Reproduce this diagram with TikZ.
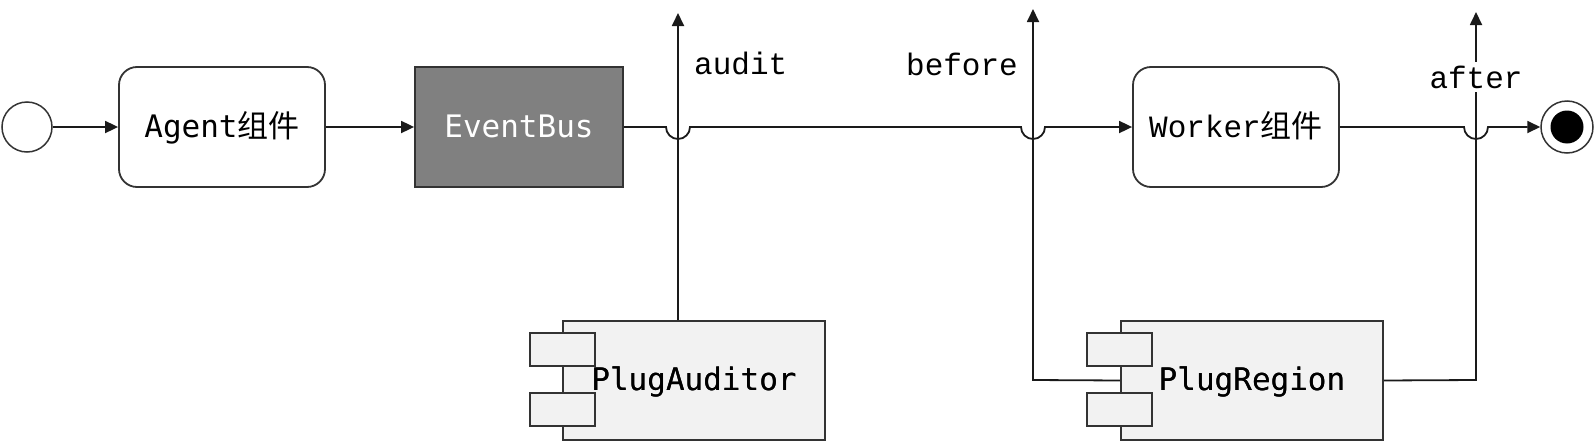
\documentclass[tikz,border=0pt]{standalone}
\usepackage{fontspec}
\newfontfamily\menlo{DejaVu Sans Mono}
\newfontfamily\couriermono{Liberation Mono}
\newfontfamily\cjk{Noto Sans CJK SC}
\usetikzlibrary{arrows.meta}
\definecolor{edgec}{HTML}{1A1A1A}
\definecolor{borderc}{HTML}{333333}
\definecolor{busfill}{HTML}{808080}
\definecolor{compfill}{HTML}{F2F2F2}
\tikzset{
  flow/.style={draw=edgec, line width=1.8pt},
  arr/.style={flow, -{Triangle[length=13pt,width=12pt]}},
  roundbox/.style={draw=borderc, line width=1.8pt, rounded corners=18pt, fill=white,
    minimum width=206pt, minimum height=120pt, inner sep=0pt,
    text height=24pt, text depth=4pt, font=\fontsize{31}{37}\selectfont},
  busbox/.style={draw=borderc, line width=1.8pt, fill=busfill, text=white,
    minimum width=208pt, minimum height=120pt, inner sep=0pt,
    text height=24pt, text depth=4pt, font=\fontsize{31}{37}\selectfont\menlo},
  compbox/.style={draw=borderc, line width=1.8pt, fill=compfill,
    minimum width=262pt, minimum height=119pt, inner sep=0pt,
    text height=24pt, text depth=4pt, font=\fontsize{31}{37}\selectfont\menlo},
  compsmall/.style={draw=borderc, line width=1.8pt, fill=compfill},
  lbl/.style={inner sep=0pt, font=\fontsize{31}{37}\selectfont\couriermono, text=black},
  startc/.style={circle, draw=borderc, line width=1.5pt, fill=white, minimum size=50pt, inner sep=0pt},
  endc/.style={circle, draw=borderc, line width=1.5pt, fill=white, minimum size=52pt, inner sep=0pt},
}
\begin{document}
\begin{tikzpicture}[x=1pt,y=-1pt]
\useasboundingbox (0,0) rectangle (1596,442);
% nodes
\node[startc] (s) at (27,127) {};
\node[roundbox] (agent) at (222,127) {\menlo Agent\cjk 组件};
\node[busbox] (bus) at (519,127) {EventBus};
\node[roundbox] (worker) at (1236,127) {\couriermono Worker\cjk 组件};
\node[endc] (e) at (1567,127) {};
\fill[black] (e.center) circle[radius=16.5pt];
% jump coordinates
\coordinate (j1) at (678,127);
\coordinate (j2) at (1033,127);
\coordinate (j3) at (1476,127);
% top ends of vertical connectors
\coordinate (t1) at (678,13);
\coordinate (t2) at (1033,9);
\coordinate (t3) at (1476,12);
% components main rectangle positions
\coordinate (pac) at (694,380.5);
\coordinate (prc) at (1252,380.5);
\coordinate (b2) at (1033,380);
\coordinate (b3) at (1476,380);
% connectors from PlugRegion (drawn before the boxes)
\draw[arr] (prc) ++(-131,0) -- (b2) -- (t2);
\draw[arr] (prc) ++(131,0) -- (b3) -- (t3);
% components
\node[compbox] (pa) at (pac) {PlugAuditor};
\draw[compsmall] ([shift={(-32,13)}]pa.north west) rectangle ++(65,33);
\draw[compsmall] ([shift={(-32,73)}]pa.north west) rectangle ++(65,33);
\node at (pa.center) [compbox, draw=none, fill=none] {PlugAuditor};
\node[compbox] (pr) at (prc) {PlugRegion};
\draw[compsmall] ([shift={(-33,13)}]pr.north west) rectangle ++(65,33);
\draw[compsmall] ([shift={(-33,73)}]pr.north west) rectangle ++(65,33);
\node at (pr.center) [compbox, draw=none, fill=none] {PlugRegion};
% connector from PlugAuditor
\draw[arr] (t1 |- pa.north) -- (t1);
% main flow
\draw[arr] (s.east) -- (agent.west);
\draw[arr] (agent.east) -- (bus.west);
\draw[arr] (bus.east) -- ([xshift=-12pt]j1) arc[start angle=180, end angle=360, radius=12pt]
  -- ([xshift=-12pt]j2) arc[start angle=180, end angle=360, radius=12pt] -- (worker.west);
\draw[arr] (worker.east) -- ([xshift=-12pt]j3) arc[start angle=180, end angle=360, radius=12pt] -- (e.west);
% labels
\node[lbl, anchor=base west] (la) at (694,74) {audit};
\node[lbl, anchor=base east] (lb) at (1018,75) {before};
\node[lbl, anchor=base, fill=white, inner ysep=4pt] (lc) at (1476,88) {after};
\end{tikzpicture}
\end{document}
